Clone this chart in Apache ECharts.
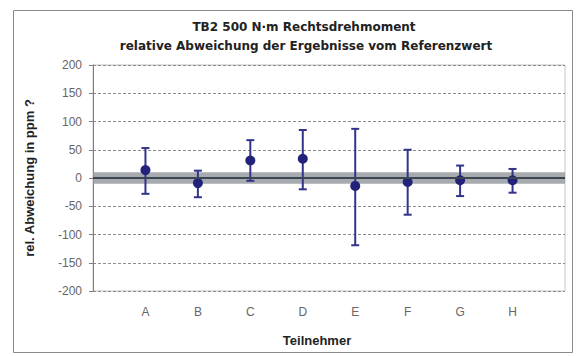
<!DOCTYPE html>
<html>
<head>
<meta charset="utf-8">
<script src="https://cdn.jsdelivr.net/npm/echarts@6/dist/echarts.min.js"></script>
<style>
html,body{margin:0;padding:0;background:#fff;}
#c{width:579px;height:356px;}
</style>
</head>
<body>
<div id="c"></div>
<script>
// Data
var categories = ['A', 'B', 'C', 'D', 'E', 'F', 'G', 'H'];
var positions = [1, 2, 3, 4, 5, 6, 7, 8];
var values = [14, -9, 31, 34, -14, -7, -4, -4];
var upper = [53, 13, 67, 85, 87, 50, 22, 16];
var lower = [-28, -34, -5, -20, -119, -65, -32, -26];
var yTicks = [-200, -150, -100, -50, 0, 50, 100, 150, 200];
var refBand = [-10, 10];
var titleLines = ['TB2 500 N\u00b7m Rechtsdrehmoment', 'relative Abweichung der Ergebnisse vom Referenzwert'];
var yTitle = 'rel. Abweichung in ppm ?';
var xTitle = 'Teilnehmer';

var pointData = positions.map(function (p, i) { return [p, values[i]]; });
var errData = positions.map(function (p, i) { return [p, lower[i], upper[i]]; });

var chart = echarts.init(document.getElementById('c'), null, {renderer: 'svg'});
var font = 'Liberation Sans, Arial, sans-serif';
var titleFont = 'DejaVu Sans, sans-serif';
chart.setOption({
  animation: false,
  backgroundColor: '#ffffff',
  title: [{
    text: titleLines[0],
    left: 299, top: 16, textAlign: 'center',
    textStyle: {fontFamily: titleFont, fontSize: 12, fontWeight: 'bold', color: '#222'}
  }, {
    text: titleLines[1],
    left: 301, top: 35, textAlign: 'center',
    textStyle: {fontFamily: titleFont, fontSize: 12, fontWeight: 'bold', color: '#222'}
  }],
  graphic: [{
    type: 'rect',
    shape: {x: 13.5, y: 10.5, width: 559, height: 342},
    style: {fill: 'none', stroke: '#8a8a8a', lineWidth: 1},
    silent: true, z: -1
  }],
  grid: {left: 93, right: 14, top: 65, bottom: 65, show: true, borderColor: '#c4c4c4', borderWidth: 1, backgroundColor: '#fff'},
  xAxis: {
    type: 'value', min: 0, max: 9, interval: 1,
    name: xTitle, nameLocation: 'middle', nameGap: 43,
    nameTextStyle: {fontFamily: font, fontSize: 13, fontWeight: 'bold', color: '#222', padding: [0, 24, 0, 0]},
    axisLine: {show: false}, axisTick: {show: false}, splitLine: {show: false},
    axisLabel: {
      fontFamily: font, fontSize: 12, color: '#666', margin: 15,
      formatter: function (v) { var i = positions.indexOf(v); return i >= 0 ? categories[i] : ''; }
    }
  },
  yAxis: {
    type: 'value', min: yTicks[0], max: yTicks[yTicks.length - 1], interval: 50,
    name: yTitle, nameLocation: 'middle', nameGap: 57, nameRotate: 90,
    nameTextStyle: {fontFamily: font, fontSize: 13, fontWeight: 'bold', color: '#222'},
    axisLine: {show: true, lineStyle: {color: '#808080', width: 1}},
    axisTick: {show: true, length: 4, lineStyle: {color: '#808080'}},
    axisLabel: {fontFamily: font, fontSize: 12, color: '#666', margin: 11},
    splitLine: {show: true, lineStyle: {color: '#8c8c8c', type: [3, 2], width: 1}}
  },
  series: [
    {
      type: 'scatter',
      data: [],
      silent: true,
      markArea: {
        silent: true,
        itemStyle: {color: 'rgba(145,150,155,0.8)'},
        data: [[{yAxis: refBand[0]}, {yAxis: refBand[1]}]]
      },
      markLine: {
        silent: true, symbol: ['none', 'none'],
        label: {show: false},
        lineStyle: {color: '#3c4650', width: 2, type: 'solid'},
        data: [{yAxis: 0}]
      }
    },
    {
      type: 'custom',
      data: errData,
      z: 3,
      renderItem: function (params, api) {
        var x = api.value(0);
        var lo = api.coord([x, api.value(1)]);
        var hi = api.coord([x, api.value(2)]);
        var cap = 4;
        var st = {stroke: '#33338a', lineWidth: 2};
        return {
          type: 'group',
          children: [
            {type: 'line', shape: {x1: hi[0], y1: hi[1], x2: lo[0], y2: lo[1]}, style: st},
            {type: 'line', shape: {x1: hi[0] - cap, y1: hi[1], x2: hi[0] + cap, y2: hi[1]}, style: st},
            {type: 'line', shape: {x1: lo[0] - cap, y1: lo[1], x2: lo[0] + cap, y2: lo[1]}, style: st}
          ]
        };
      }
    },
    {
      type: 'scatter',
      data: pointData,
      z: 4,
      symbol: 'circle',
      symbolSize: 10,
      itemStyle: {color: '#22227a', opacity: 1}
    }
  ]
});
</script>
</body>
</html>
